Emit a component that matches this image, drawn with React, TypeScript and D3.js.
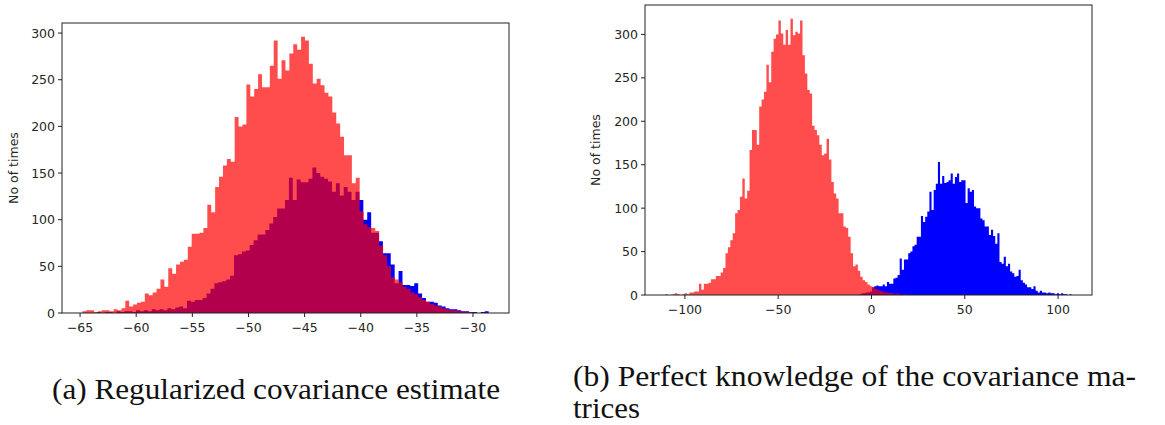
import React from 'react';
import * as d3 from 'd3';

// ---------- data ----------
const leftRedRange = [-64.8, -30.0];
const leftRedCounts = [
  2, 3, 3, 1, 2, 3, 3, 2, 4, 3,
  5, 13, 7, 9, 11, 12, 21, 19, 22, 26,
  36, 28, 48, 42, 52, 55, 57, 71, 85, 85,
  86, 91, 116, 108, 135, 146, 158, 165, 162, 210,
  200, 202, 245, 232, 240, 256, 242, 242, 265, 292,
  251, 271, 260, 278, 288, 282, 296, 292, 267, 246,
  251, 244, 236, 232, 215, 203, 189, 169, 169, 139,
  145, 109, 95, 92, 91, 88, 72, 62, 50, 38,
  36, 33, 28, 26, 22, 20, 17, 14, 12, 10,
  8, 7, 5, 4, 3, 3, 2, 2, 1, 1,
];
const leftBlueRange = [-63.5, -28.6];
const leftBlueCounts = [
  1, 0, 1, 1, 0, 2, 1, 2, 2, 1,
  3, 2, 3, 2, 4, 3, 4, 3, 5, 4,
  6, 7, 5, 13, 12, 14, 14, 16, 21, 26,
  32, 33, 34, 36, 40, 62, 63, 66, 67, 73,
  78, 84, 84, 89, 96, 103, 112, 112, 121, 145,
  121, 143, 140, 140, 144, 156, 150, 146, 144, 141,
  130, 139, 126, 135, 130, 121, 130, 121, 100, 108,
  86, 86, 77, 64, 64, 52, 32, 45, 30, 30,
  29, 32, 21, 16, 12, 12, 11, 8, 7, 5,
  4, 4, 3, 2, 2, 1, 1, 0, 1, 2,
];
const rightRedRange = [-110.5, 18.5];
const rightRedCounts = [
  1, 0, 0, 1, 2, 1, 0, 1, 2, 1,
  3, 3, 4, 4, 13, 6, 13, 13, 14, 18,
  18, 22, 22, 26, 31, 48, 55, 63, 71, 94,
  98, 113, 134, 111, 120, 167, 190, 190, 173, 217,
  225, 234, 265, 245, 280, 295, 300, 316, 301, 288,
  305, 288, 318, 299, 303, 301, 316, 276, 255, 236,
  232, 195, 190, 184, 173, 161, 163, 180, 156, 130,
  117, 111, 94, 94, 79, 77, 67, 48, 33, 35,
  28, 21, 17, 15, 12, 10, 9, 7, 6, 5,
  4, 3, 3, 2, 2, 1, 2, 1, 0, 1,
];
const rightBlueRange = [-6.5, 107.3];
const rightBlueCounts = [
  1, 2, 2, 3, 3, 4, 9, 10, 11, 10,
  10, 12, 10, 15, 13, 13, 19, 20, 23, 42,
  29, 41, 41, 48, 50, 56, 58, 67, 67, 91,
  84, 90, 96, 119, 98, 121, 128, 153, 128, 137,
  129, 130, 132, 140, 128, 136, 140, 130, 132, 132,
  106, 123, 119, 121, 102, 100, 100, 88, 86, 79,
  79, 69, 75, 68, 59, 71, 38, 36, 44, 33,
  36, 27, 25, 21, 22, 29, 17, 14, 12, 9,
  9, 7, 10, 5, 3, 5, 3, 3, 2, 3,
  2, 2, 1, 2, 1, 2, 1, 1, 0, 1,
];

const leftXTicks = [-65, -60, -55, -50, -45, -40, -35, -30];
const rightXTicks = [-100, -50, 0, 50, 100];
const yTicks = [0, 50, 100, 150, 200, 250, 300];
const yLabel = 'No of times';
const captionA = '(a) Regularized covariance estimate';
const captionB1 = '(b) Perfect knowledge of the covariance ma-';
const captionB2 = 'trices';

// ---------- drawing ----------
const AXIS_FONT = "'DejaVu Sans', sans-serif";
const TEXT_COLOR = '#262626';
const LINE_COLOR = '#222';

function fmt(v: number) {
  return v < 0 ? '\u2212' + Math.abs(v) : String(v);
}

type Series = { range: number[]; counts: number[]; fill: string; opacity: number };

function Hist({ s, x, y }: { s: Series; x: any; y: any }) {
  const n = s.counts.length;
  const w = (s.range[1] - s.range[0]) / n;
  const pts: [number, number][] = s.counts.map((c, i) => [s.range[0] + i * w, c]);
  pts.push([s.range[1], s.counts[n - 1]]);
  const area = d3
    .area<[number, number]>()
    .x((d) => x(d[0]))
    .y0(y(0))
    .y1((d) => y(d[1]))
    .curve(d3.curveStepAfter);
  return <path d={area(pts) || ''} fill={s.fill} fillOpacity={s.opacity} />;
}

function Panel({
  box,
  series,
  xTicks,
  labelX,
}: {
  box: { left: number; right: number; top: number; bottom: number };
  series: Series[];
  xTicks: number[];
  labelX: number;
}) {
  const lo = d3.min(series, (s) => s.range[0]) as number;
  const hi = d3.max(series, (s) => s.range[1]) as number;
  const pad = (hi - lo) * 0.05;
  const ymax = (d3.max(series, (s) => d3.max(s.counts)) as number) * 1.05;
  const x = d3.scaleLinear().domain([lo - pad, hi + pad]).range([box.left, box.right]);
  const y = d3.scaleLinear().domain([0, ymax]).range([box.bottom, box.top]);
  const id = 'clip' + box.left;
  return (
    <g>
      <defs>
        <clipPath id={id}>
          <rect x={box.left} y={box.top} width={box.right - box.left} height={box.bottom - box.top} />
        </clipPath>
      </defs>
      <g clipPath={`url(#${id})`}>
        {series.map((s, i) => (
          <Hist key={i} s={s} x={x} y={y} />
        ))}
      </g>
      <rect
        x={box.left}
        y={box.top}
        width={box.right - box.left}
        height={box.bottom - box.top}
        fill="none"
        stroke={LINE_COLOR}
        strokeWidth={1}
      />
      {yTicks.map((t) => (
        <g key={'y' + t}>
          <line x1={box.left - 4} x2={box.left} y1={y(t)} y2={y(t)} stroke={LINE_COLOR} strokeWidth={1} />
          <text
            x={box.left - 7}
            y={y(t)}
            dy="0.36em"
            textAnchor="end"
            fontFamily={AXIS_FONT}
            fontSize={12.5}
            fill={TEXT_COLOR}
          >
            {fmt(t)}
          </text>
        </g>
      ))}
      {xTicks.map((t) => (
        <g key={'x' + t}>
          <line x1={x(t)} x2={x(t)} y1={box.bottom} y2={box.bottom + 4} stroke={LINE_COLOR} strokeWidth={1} />
          <text
            x={x(t)}
            y={box.bottom + 19}
            textAnchor="middle"
            fontFamily={AXIS_FONT}
            fontSize={12.5}
            fill={TEXT_COLOR}
          >
            {fmt(t)}
          </text>
        </g>
      ))}
      <text
        transform={`translate(${labelX},${(box.top + box.bottom) / 2}) rotate(-90)`}
        textAnchor="middle"
        dy="0.35em"
        fontFamily={AXIS_FONT}
        fontSize={12.5}
        fill={TEXT_COLOR}
      >
        {yLabel}
      </text>
    </g>
  );
}

export default function App() {
  const RED = '#ff0000';
  const BLUE = '#0000ff';
  const leftSeries: Series[] = [
    { range: leftBlueRange, counts: leftBlueCounts, fill: BLUE, opacity: 1 },
    { range: leftRedRange, counts: leftRedCounts, fill: RED, opacity: 0.7 },
  ];
  const rightSeries: Series[] = [
    { range: rightBlueRange, counts: rightBlueCounts, fill: BLUE, opacity: 1 },
    { range: rightRedRange, counts: rightRedCounts, fill: RED, opacity: 0.7 },
  ];
  const serif = "'Liberation Serif', serif";
  return (
    <div style={{ position: 'absolute', left: 0, top: 0 }}>
      <svg width={1165} height={425} style={{ display: 'block', background: '#fff' }}>
        <Panel
          box={{ left: 62, right: 509, top: 23, bottom: 313 }}
          series={leftSeries}
          xTicks={leftXTicks}
          labelX={14}
        />
        <Panel
          box={{ left: 645, right: 1092, top: 5, bottom: 295 }}
          series={rightSeries}
          xTicks={rightXTicks}
          labelX={596}
        />
        <text x={52} y={399} fontFamily={serif} fontSize={29} fill="#111" textLength={448} lengthAdjust="spacingAndGlyphs">
          {captionA}
        </text>
        <text x={573} y={386} fontFamily={serif} fontSize={29} fill="#111" textLength={563} lengthAdjust="spacingAndGlyphs">
          {captionB1}
        </text>
        <text x={573} y={418} fontFamily={serif} fontSize={29} fill="#111" textLength={67} lengthAdjust="spacingAndGlyphs">
          {captionB2}
        </text>
      </svg>
    </div>
  );
}
